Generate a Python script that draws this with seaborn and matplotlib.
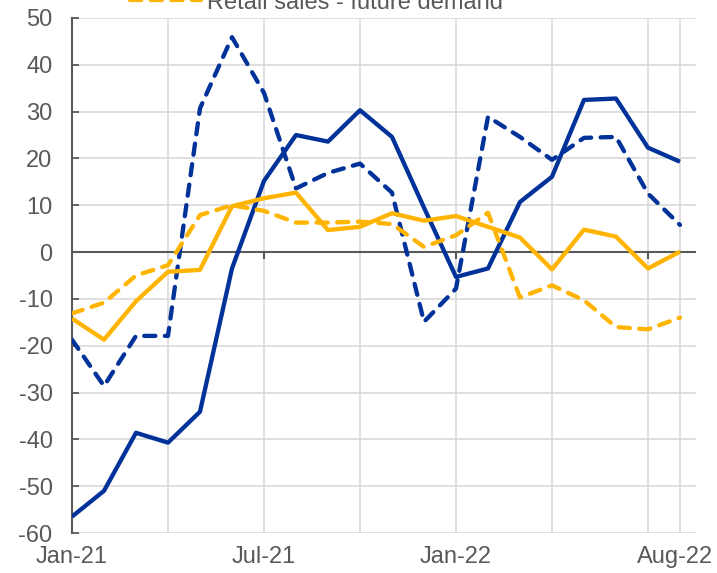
import numpy as np
import pandas as pd
import seaborn as sns
import matplotlib.pyplot as plt
import matplotlib.transforms as mtransforms
from matplotlib.lines import Line2D

# =============================================================================
months = pd.date_range("2021-01-01", "2022-08-01", freq="MS")
tick_labels = {0: "Jan-21", 6: "Jul-21", 12: "Jan-22", 19: "Aug-22"}

services_current = [-56.5, -51.0, -38.6, -40.7, -34.1, -3.5, 15.2, 25.0, 23.6, 30.3,
                    24.6, 9.5, -5.3, -3.5, 10.7, 16.1, 32.5, 32.8, 22.3, 19.3]
services_future = [-18.7, -28.6, -17.9, -17.9, 30.7, 45.9, 34.0, 13.6, 16.9, 18.9,
                   12.7, -14.9, -7.8, 28.9, 24.6, 19.7, 24.4, 24.6, 12.5, 5.8]
retail_current = [-14.2, -18.7, -10.5, -4.2, -3.8, 9.8, 11.5, 12.7, 4.7, 5.4,
                  8.3, 6.7, 7.7, 5.4, 3.1, -3.7, 4.8, 3.3, -3.5, 0.1]
retail_future = [-13.1, -10.8, -5.0, -2.8, 7.9, 10.0, 8.8, 6.3, 6.3, 6.5,
                 6.0, 1.1, 3.6, 8.4, -9.7, -7.1, -10.3, -16.0, -16.5, -14.0]

BLUE = "#003299"
YELLOW = "#FFB400"
GREY = "#595959"
FS = 17

# =============================================================================
sns.set_style("whitegrid")
plt.rcParams['font.family'] = ['Liberation Sans', 'DejaVu Sans']
plt.rcParams['axes.unicode_minus'] = False

fig = plt.figure(figsize=(7.17, 5.73), dpi=100)
ax = fig.add_axes([0.1004, 0.0698, 0.8703, 0.8988])

x = np.arange(len(months))
lw = 3.1
series = [
    (services_current, BLUE, "-"),
    (services_future, BLUE, "--"),
    (retail_current, YELLOW, "-"),
    (retail_future, YELLOW, "--"),
]
for vals, col, ls in series:
    sns.lineplot(x=x, y=vals, color=col, linewidth=lw, ax=ax, zorder=3)
    line = ax.lines[-1]
    if ls == "--":
        line.set_dashes((2.6, 2.2))
        line.set_dash_capstyle("round")
    line.set_solid_capstyle("butt")

ax.set_xlim(0, 19.5)
ax.set_ylim(-60, 50)
ax.set_yticks(np.arange(-60, 51, 10))

grid_x = [0, 3, 6, 9, 12, 15, 18, 19]
ax.set_xticks(grid_x)
ax.set_xticklabels([tick_labels.get(i, "") for i in grid_x])
ax.tick_params(axis="x", length=0, pad=9, labelsize=FS, colors=GREY)
ax.tick_params(axis="y", length=5, width=1.3, direction="in", pad=14,
               labelsize=FS, colors=GREY, left=True)
# last label sits a little left of its gridline
last = ax.get_xticklabels()[-1]
last.set_transform(last.get_transform() +
                   mtransforms.ScaledTranslation(-5 / 100, 0, fig.dpi_scale_trans))

ax.grid(True, color="#d9d9d9", linewidth=1.2)
for side in ["top", "right", "bottom"]:
    ax.spines[side].set_visible(False)
ax.spines["left"].set_color(GREY)
ax.spines["left"].set_linewidth(1.5)

ax.axhline(0, color=GREY, linewidth=1.5, zorder=2)
ax.vlines([6, 12, 18], -1.5, 0, color=GREY, linewidth=1.5, zorder=2)

handle = Line2D([0], [0], color=YELLOW, linewidth=lw, dashes=(2.6, 2.2),
                dash_capstyle="round")
fig.legend(handles=[handle], labels=["Retail sales - future demand"],
           loc="center left", bbox_to_anchor=(0.1813, 0.9953), frameon=False,
           fontsize=FS, handlelength=3.0, handletextpad=0.25,
           labelcolor=GREY, borderpad=0, borderaxespad=0)

fig.savefig("out.png", dpi=100)
